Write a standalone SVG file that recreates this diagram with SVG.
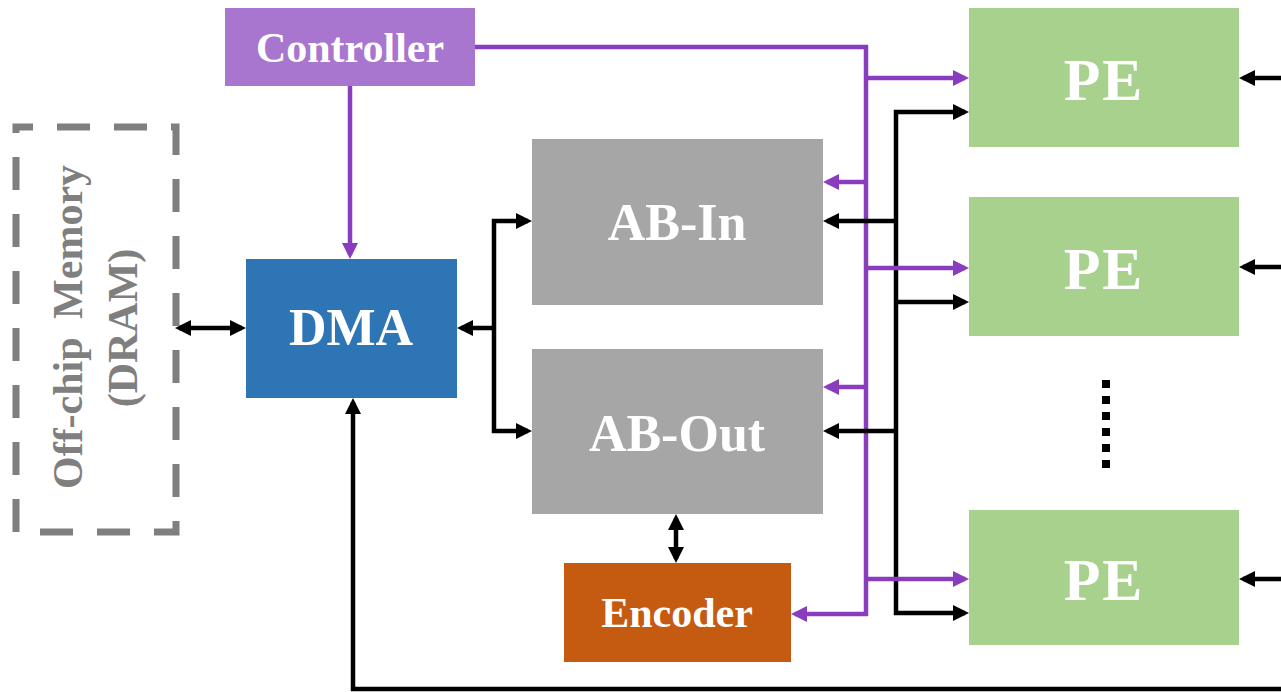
<svg xmlns="http://www.w3.org/2000/svg" width="1281" height="692" viewBox="0 0 1281 692">
<style>
.lbl{font-family:"Liberation Serif","Times New Roman",serif;font-weight:bold;fill:#fff;text-anchor:middle}
.blk{fill:none;stroke:#000;stroke-width:4.5}
.pur{fill:none;stroke:#8A3CBF;stroke-width:4.5}
</style>
<defs>
<marker id="ab" viewBox="0 0 16 16" markerWidth="16" markerHeight="16" refX="12" refY="8" orient="auto-start-reverse" markerUnits="userSpaceOnUse"><path d="M0,0 L16,8 L0,16 z" fill="#000"/></marker>
<marker id="ap" viewBox="0 0 16 16" markerWidth="16" markerHeight="16" refX="12" refY="8" orient="auto-start-reverse" markerUnits="userSpaceOnUse"><path d="M0,0 L16,8 L0,16 z" fill="#8A3CBF"/></marker>
</defs>
<rect width="1281" height="692" fill="#fff"/>

<g id="memory">
<rect x="16" y="127" width="160" height="405" fill="none" stroke="#7F7F7F" stroke-width="7" stroke-dasharray="33 24" stroke-dashoffset="16"/>
<text class="lbl" style="fill:#7F7F7F;word-spacing:8px" font-size="42" transform="translate(82,327) rotate(-90)">Off-chip Memory</text>
<text class="lbl" style="fill:#7F7F7F" font-size="42" transform="translate(137,328) rotate(-90)">(DRAM)</text>
</g>

<g id="controller">
<rect x="225" y="8" width="250" height="78" fill="#A875CF"/>
<text class="lbl" x="350" y="62" font-size="42">Controller</text>
</g>

<g id="dma">
<rect x="246" y="259" width="211" height="139" fill="#2E75B6"/>
<text class="lbl" x="351" y="345" font-size="52">DMA</text>
</g>

<g id="ab-in">
<rect x="532" y="139" width="291" height="166" fill="#A6A6A6"/>
<text class="lbl" x="677" y="240" font-size="52">AB-In</text>
</g>

<g id="ab-out">
<rect x="532" y="349" width="291" height="165" fill="#A6A6A6"/>
<text class="lbl" x="677" y="451" font-size="52">AB-Out</text>
</g>

<g id="encoder">
<rect x="564" y="563" width="227" height="99" fill="#C55A11"/>
<text class="lbl" x="677" y="627" font-size="42">Encoder</text>
</g>

<g id="pe1">
<rect x="969" y="8" width="270" height="139" fill="#A9D18E"/>
<text class="lbl" x="1104" y="100" font-size="60" letter-spacing="2">PE</text>
</g>
<g id="pe2">
<rect x="969" y="197" width="270" height="139" fill="#A9D18E"/>
<text class="lbl" x="1104" y="289" font-size="60" letter-spacing="2">PE</text>
</g>
<g id="pe3">
<rect x="969" y="510" width="270" height="135" fill="#A9D18E"/>
<text class="lbl" x="1104" y="600" font-size="60" letter-spacing="2">PE</text>
</g>

<g id="ellipsis">
<line x1="1106" y1="380" x2="1106" y2="468" stroke="#000" stroke-width="8" stroke-dasharray="8 8"/>
</g>

<g id="connectors">
<path class="pur" d="M350,86 V255" marker-end="url(#ap)"/>
<path class="pur" d="M475,47 H866 V614 H795" marker-end="url(#ap)"/>
<path class="pur" d="M866,182 H827" marker-end="url(#ap)"/>
<path class="pur" d="M866,387 H827" marker-end="url(#ap)"/>

<path class="blk" d="M179,328 H242" marker-start="url(#ab)" marker-end="url(#ab)"/>
<path class="blk" d="M461,328 H494" marker-start="url(#ab)"/>
<path class="blk" d="M528,221 H494 V431 H528" marker-start="url(#ab)" marker-end="url(#ab)"/>
<path class="blk" d="M676,518 V559" marker-start="url(#ab)" marker-end="url(#ab)"/>
<path class="blk" d="M896,221 H827" marker-end="url(#ab)"/>
<path class="blk" d="M896,431 H827" marker-end="url(#ab)"/>
<path class="blk" d="M965,112 H896 V613 H965" marker-start="url(#ab)" marker-end="url(#ab)"/>
<path class="blk" d="M896,302 H965" marker-end="url(#ab)"/>
<path class="blk" d="M1281,78 H1243" marker-end="url(#ab)"/>
<path class="blk" d="M1281,267 H1243" marker-end="url(#ab)"/>
<path class="blk" d="M1281,579 H1243" marker-end="url(#ab)"/>
<path class="blk" d="M1281,689 H353 V402" marker-end="url(#ab)"/>

<path class="pur" d="M866,78 H965" marker-end="url(#ap)"/>
<path class="pur" d="M866,268 H965" marker-end="url(#ap)"/>
<path class="pur" d="M866,579 H965" marker-end="url(#ap)"/>
</g>
</svg>
